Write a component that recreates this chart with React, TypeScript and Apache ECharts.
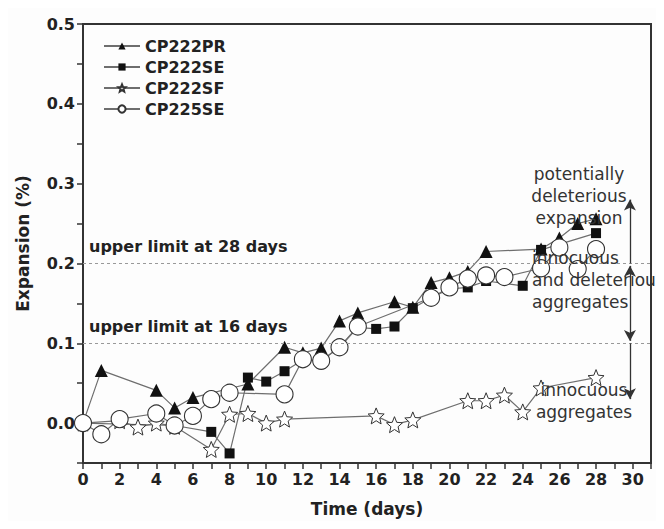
import React, { useEffect, useRef } from "react";
import * as echarts from "echarts";

// ---- data ----
const seriesNames = ["CP222PR", "CP222SE", "CP222SF", "CP225SE"];

const prDays = [0, 1, 4, 5, 6, 9, 11, 12, 13, 14, 15, 17, 18, 19, 20, 21, 22, 25, 26, 27, 28];
const prVals = [0, 0.066, 0.041, 0.019, 0.032, 0.049, 0.095, 0.088, 0.094, 0.128, 0.138, 0.152, 0.145, 0.176, 0.182, 0.19, 0.215, 0.218, 0.232, 0.25, 0.256];

const seDays = [0, 5, 7, 8, 9, 10, 11, 12, 13, 14, 15, 16, 17, 18, 19, 20, 21, 22, 24, 25, 28];
const seVals = [0, -0.003, -0.011, -0.038, 0.057, 0.052, 0.065, 0.079, 0.078, 0.095, 0.12, 0.118, 0.121, 0.144, 0.157, 0.168, 0.17, 0.178, 0.172, 0.217, 0.238];

const sfDays = [0, 2, 3, 4, 5, 7, 8, 9, 10, 11, 16, 17, 18, 21, 22, 23, 24, 25, 28];
const sfVals = [0, 0.003, -0.005, 0, -0.004, -0.033, 0.011, 0.012, 0, 0.005, 0.009, -0.002, 0.004, 0.028, 0.028, 0.035, 0.014, 0.044, 0.057];

const c5Days = [0, 1, 2, 4, 5, 6, 7, 8, 11, 12, 13, 14, 15, 19, 20, 21, 22, 23, 25, 26, 27, 28];
const c5Vals = [0, -0.014, 0.005, 0.012, -0.003, 0.009, 0.03, 0.038, 0.036, 0.08, 0.078, 0.095, 0.121, 0.157, 0.17, 0.181, 0.185, 0.183, 0.194, 0.22, 0.193, 0.218];

const limitVals = [0.2, 0.1];
const limitLabels = ["upper limit at 28 days", "upper limit at 16 days"];

const arrowX = 29.85;
const arrowSegs: [number, number, string, string][] = [
  [0.2, 0.28, "none", "arrow"],
  [0.103, 0.197, "arrow", "arrow"],
  [0.1, 0.03, "none", "arrow"],
];

const zoneTexts = [
  { text: "potentially\ndeleterious\nexpansion", x: 579, y: 196 },
  { text: "innocuous\nand deleterious\naggregates", x: 532, y: 280, align: "left" },
  { text: "innocuous\naggregates", x: 584, y: 401 },
];

const STAR = "path://M50 0L63.2 31.8L97.6 34.5L71.4 56.9L79.4 90.5L50 72.5L20.6 90.5L28.6 56.9L2.4 34.5L36.8 31.8Z";

const pair = (d: number[], v: number[]) => d.map((x, i) => [x, v[i]]);

const FONT = "'DejaVu Sans', 'Liberation Sans', Arial, sans-serif";

export default function App() {
  const ref = useRef<HTMLDivElement>(null);
  useEffect(() => {
    if (!ref.current) return;
    const chart = echarts.init(ref.current, undefined, { renderer: "svg" });
    const lineColor = "#6e6e6e";
    const common = {
      type: "line",
      lineStyle: { color: lineColor, width: 1.2 },
      showAllSymbol: true,
    };
    const option: any = {
      animation: false,
      backgroundColor: "#fdfdfd",
      grid: {
        left: 83,
        top: 24,
        right: 13,
        bottom: 66,
        show: true,
        borderColor: "#333",
        borderWidth: 2,
        backgroundColor: "transparent",
      },
      legend: {
        orient: "vertical",
        left: 98,
        top: 33,
        itemWidth: 36,
        itemHeight: 9,
        itemGap: 5,
        data: seriesNames,
        textStyle: { fontFamily: FONT, fontWeight: "bold", fontSize: 16, color: "#222" },
      },
      xAxis: {
        type: "value",
        min: 0,
        max: 31,
        interval: 1,
        name: "Time (days)",
        nameLocation: "middle",
        nameGap: 37,
        nameTextStyle: { fontFamily: FONT, fontWeight: "bold", fontSize: 17, color: "#222" },
        axisLine: { show: true, onZero: false, lineStyle: { color: "#333", width: 2 } },
        axisTick: { show: true, interval: 0, length: 6, lineStyle: { color: "#333", width: 1.5 } },
        axisLabel: {
          formatter: (v: number) => (Math.round(v) % 2 === 0 && v <= 30 ? String(v) : ""),
          fontFamily: FONT,
          fontWeight: "bold",
          fontSize: 16,
          color: "#222",
          margin: 8,
        },
        splitLine: { show: false },
      },
      yAxis: {
        type: "value",
        min: -0.05,
        max: 0.5,
        interval: 0.05,
        name: "Expansion (%)",
        nameLocation: "middle",
        nameGap: 52,
        nameTextStyle: { fontFamily: FONT, fontWeight: "bold", fontSize: 17, color: "#222" },
        axisLine: { show: true, onZero: false, lineStyle: { color: "#333", width: 2 } },
        axisTick: { show: true, interval: 0, length: 6, lineStyle: { color: "#333", width: 1.5 } },
        axisLabel: {
          formatter: (v: number) => (Math.round(v * 100) % 10 === 0 ? v.toFixed(1) : ""),
          fontFamily: FONT,
          fontWeight: "bold",
          fontSize: 16,
          color: "#222",
          margin: 8,
        },
        splitLine: { show: false },
      },
      series: [
        {
          ...common,
          name: "__limits",
          data: [],
          markLine: {
            silent: true,
            symbol: ["none", "none"],
            lineStyle: { color: "#999", type: [3, 3], width: 1 },
            label: {
              show: true,
              position: "insideStartTop",
              distance: [6, 9],
              fontFamily: FONT,
              fontWeight: "bold",
              fontSize: 16,
              color: "#222",
              formatter: (p: any) => p.name,
            },
            data: limitVals.map((v, i) => ({ yAxis: v, name: limitLabels[i] })),
          },
        },
        {
          ...common,
          name: "__arrows",
          data: [],
          markLine: {
            silent: true,
            symbolSize: [9, 11],
            lineStyle: { color: "#333", type: "solid", width: 1.3 },
            label: { show: false },
            data: arrowSegs.map((s) => [
              { coord: [arrowX, s[0]], symbol: s[2] },
              { coord: [arrowX, s[1]], symbol: s[3] },
            ]),
          },
        },
        {
          ...common,
          name: seriesNames[0],
          data: pair(prDays, prVals),
          symbol: "triangle",
          symbolSize: 13,
          itemStyle: { color: "#111", borderColor: "#111", borderWidth: 0 },
        },
        {
          ...common,
          name: seriesNames[1],
          data: pair(seDays, seVals),
          symbol: "rect",
          symbolSize: 10,
          itemStyle: { color: "#111", borderColor: "#111", borderWidth: 0 },
        },
        {
          ...common,
          name: seriesNames[2],
          data: pair(sfDays, sfVals),
          symbol: STAR,
          symbolSize: 16,
          itemStyle: { color: "#fff", borderColor: "#333", borderWidth: 1 },
        },
        {
          ...common,
          name: seriesNames[3],
          data: pair(c5Days, c5Vals),
          symbol: "circle",
          symbolSize: 17,
          itemStyle: { color: "#fff", borderColor: "#333", borderWidth: 1.1 },
        },
      ],
      graphic: zoneTexts.map((t) => ({
        type: "text",
        x: t.x,
        y: t.y,
        z: 100,
        style: {
          text: t.text,
          fontFamily: FONT,
          fontSize: 17,
          lineHeight: 22,
          fill: "#333",
          align: t.align || "center",
          verticalAlign: "middle",
        },
      })),
    };
    chart.setOption(option);
    return () => chart.dispose();
  }, []);
  return <div ref={ref} style={{ width: 664, height: 529, margin: -8 }} />;
}
